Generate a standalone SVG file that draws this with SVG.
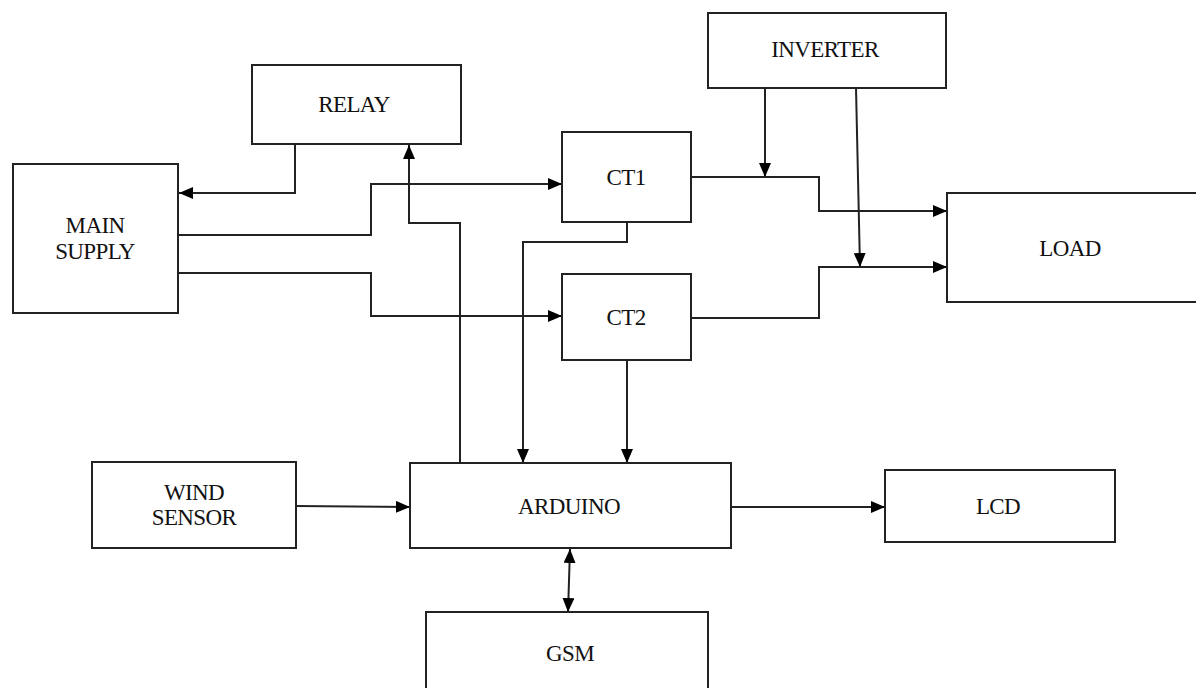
<svg xmlns="http://www.w3.org/2000/svg" width="1196" height="688" viewBox="0 0 1196 688">
<style>
.box{fill:#fff;stroke:#222;stroke-width:2}
.lbl{font-family:"Liberation Serif","Times New Roman",serif;font-size:23px;letter-spacing:-0.6px;fill:#111;text-anchor:middle}
.wire{fill:none;stroke:#222;stroke-width:2}
</style>
<defs>
<marker id="ah" markerUnits="userSpaceOnUse" markerWidth="14" markerHeight="12" viewBox="0 0 14 12" refX="14" refY="6" orient="auto-start-reverse">
<path d="M0,0 L14,6 L0,12 z" fill="#000"/>
</marker>
</defs>
<rect width="1196" height="688" fill="#fff"/>
<g id="connectors">
<path class="wire" d="M295 144 V193 H179" marker-end="url(#ah)"/>
<path class="wire" d="M178 235 H371 V184 H562" marker-end="url(#ah)"/>
<path class="wire" d="M178 273 H371 V316 H562" marker-end="url(#ah)"/>
<path class="wire" d="M460 463 V223 H409 V145" marker-end="url(#ah)"/>
<path class="wire" d="M627 222 V242 H523 V463" marker-end="url(#ah)"/>
<path class="wire" d="M627 360 V463" marker-end="url(#ah)"/>
<path class="wire" d="M765 88 V177" marker-end="url(#ah)"/>
<path class="wire" d="M856 88 L860 267" marker-end="url(#ah)"/>
<path class="wire" d="M691 177 H819 V211 H947" marker-end="url(#ah)"/>
<path class="wire" d="M691 318 H819 V267 H947" marker-end="url(#ah)"/>
<path class="wire" d="M296 506 L410 507" marker-end="url(#ah)"/>
<path class="wire" d="M731 507 H885" marker-end="url(#ah)"/>
<path class="wire" d="M570 549 L568 612" marker-start="url(#ah)" marker-end="url(#ah)"/>
</g>
<g id="relay"><rect class="box" x="252" y="65" width="209" height="79"/><text class="lbl" x="354" y="112">RELAY</text></g>
<g id="inverter"><rect class="box" x="708" y="13" width="238" height="75"/><text class="lbl" x="825" y="57">INVERTER</text></g>
<g id="main-supply"><rect class="box" x="13" y="164" width="165" height="149"/><text class="lbl" x="95" y="233">MAIN</text><text class="lbl" x="95" y="259">SUPPLY</text></g>
<g id="ct1"><rect class="box" x="562" y="132" width="129" height="90"/><text class="lbl" x="626" y="185">CT1</text></g>
<g id="ct2"><rect class="box" x="562" y="274" width="129" height="86"/><text class="lbl" x="626" y="325">CT2</text></g>
<g id="load"><rect class="box" x="947" y="193" width="260" height="109"/><text class="lbl" x="1070" y="256">LOAD</text></g>
<g id="wind-sensor"><rect class="box" x="92" y="462" width="204" height="86"/><text class="lbl" x="194" y="500">WIND</text><text class="lbl" x="194" y="525">SENSOR</text></g>
<g id="arduino"><rect class="box" x="410" y="463" width="321" height="85"/><text class="lbl" x="569" y="514">ARDUINO</text></g>
<g id="lcd"><rect class="box" x="885" y="470" width="230" height="72"/><text class="lbl" x="998" y="514">LCD</text></g>
<g id="gsm"><rect class="box" x="426" y="612" width="282" height="90"/><text class="lbl" x="570" y="661">GSM</text></g>
</svg>
